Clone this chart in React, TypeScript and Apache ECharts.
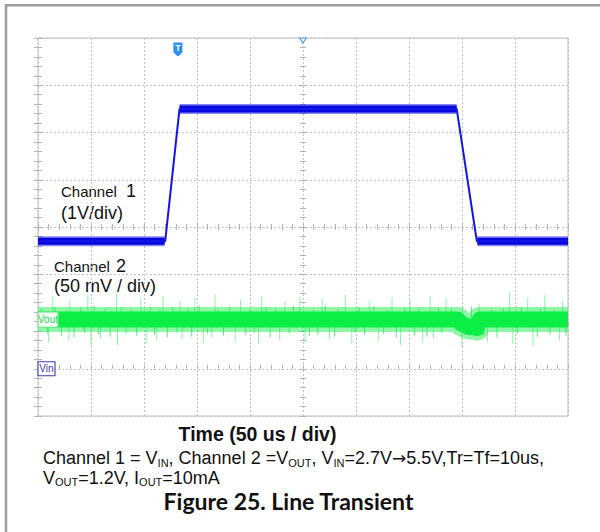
import React, { useEffect, useRef } from "react";
import * as echarts from "echarts";

// ---- Data read from the oscilloscope capture ----
// Time axis: 0..500 us (50 us/div, 10 div)
// Channel 1 (Vin), volts, 1 V/div, ground reference at 1 div from bottom
const ch1TimeUs = [0, 120, 133.5, 395, 414, 500];
const ch1Volts = [2.7, 2.7, 5.5, 5.5, 2.7, 2.7];
// flat (noisy) parts of channel 1, null = gap during the edges
const ch1BandTimeUs = [0, 119.5, 126, 133.5, 395, 405, 414.5, 500];
const ch1BandVolts: (number | null)[] = [2.7, 2.7, null, 5.5, 5.5, null, 2.7, 2.7];

// Channel 2 (Vout, AC), mV, 50 mV/div, reference at 2 div from bottom
const ch2TimeUs = [0, 396, 399, 403, 407, 411, 414, 415.5, 417, 500];
const ch2Mv = [2, 2, -2, -4, -6, -5, -7, -1, 2, 2];
// large noise spikes on channel 2 (tip values, mV)
const ch2SpikeUpTimeUs = [14, 30, 47, 74, 97, 118, 134, 148, 167, 191, 211, 233, 247, 268, 290, 313, 334, 351, 370, 385, 416, 445, 462, 478, 495];
const ch2SpikeUpMv = [26, 22, 28, 30, 24, 27, 22, 25, 29, 23, 27, 21, 26, 24, 28, 22, 26, 23, 27, 24, 19, 31, 25, 28, 22];
const ch2SpikeDownTimeUs = [10, 29, 50, 59, 75, 102, 112, 136, 156, 164, 186, 208, 228, 252, 275, 296, 321, 342, 363, 373, 400, 424, 448, 467, 492];
const ch2SpikeDownMv = [-22, -20, -26, -18, -25, -24, -20, -19, -23, -17, -21, -24, -20, -22, -19, -23, -21, -25, -22, -18, -27, -22, -24, -26, -20];
// smaller noise excursions on channel 2 (tip values, mV)
const ch2FuzzTimeUs = [
  3, 9, 16, 22, 27, 34, 40, 44, 53, 57,
  63, 68, 79, 83, 88, 93, 106, 110, 115, 122,
  127, 131, 141, 145, 152, 160, 170, 175, 181, 196,
  200, 204, 215, 219, 224, 237, 241, 256, 260, 264,
  271, 280, 283, 299, 303, 308, 317, 326, 330, 338,
  346, 355, 359, 367, 378, 381, 390, 405, 409, 420,
  428, 433, 439, 452, 456, 471, 474, 483, 487, 498,
];
const ch2FuzzMv = [
  14, -13, 16, -15, 12, -17, 15, -12, 17, -14,
  13, -16, 15, -13, 12, -15, 16, -14, 13, -17,
  15, -12, 14, -16, 17, -13, 12, -15, 16, -14,
  13, -12, 15, -17, 14, -13, 16, -15, 12, -14,
  17, -16, 13, -12, 15, -14, 16, -13, 12, -17,
  14, -15, 13, -16, 15, -12, 14, -13, 16, -15,
  12, -17, 14, -13, 15, -16, 13, -14, 12, -15,
];

const triggerTimeUs = 132;
const centerTimeUs = 250;

const FONT = "'Liberation Sans', Arial, Helvetica, sans-serif";
const GRID_COLOR = "#c4c4c4";
const TICK_COLOR = "#b4b4b4";

function pairs(xs: number[], ys: (number | null)[]) {
  return xs.map((x, i) => [x, ys[i]]);
}

function spikeLines(data: number[][], stroke: string, opacity: number): any {
  return {
    type: "custom",
    xAxisIndex: 0,
    yAxisIndex: 1,
    silent: true,
    encode: { x: 0, y: [1, 2] },
    data,
    renderItem: (_params: any, api: any) => {
      const p0 = api.coord([api.value(0), api.value(1)]);
      const p1 = api.coord([api.value(0), api.value(2)]);
      return {
        type: "line",
        shape: { x1: p0[0], y1: p0[1], x2: p1[0], y2: p1[1] },
        style: { stroke, lineWidth: 1, opacity },
      };
    },
  };
}

function buildOption(): any {
  const bigSpikes = [
    ...ch2SpikeUpTimeUs.map((t, i) => [t, 2, ch2SpikeUpMv[i]]),
    ...ch2SpikeDownTimeUs.map((t, i) => [t, 2, ch2SpikeDownMv[i]]),
  ];
  const fuzz = ch2FuzzTimeUs.map((t, i) => [t, 2, ch2FuzzMv[i]]);

  const tickStyle = { color: TICK_COLOR, width: 1 };
  const xBase = {
    type: "value",
    min: 0,
    max: 500,
    interval: 50,
    axisLabel: { show: false },
    axisLine: { show: false },
    splitLine: { show: false },
  };
  const yBase = {
    type: "value",
    min: -1,
    max: 7,
    interval: 1,
    axisLabel: { show: false },
    axisLine: { show: false },
    splitLine: { show: false },
  };
  const edgeTick = (inside: boolean, len: number) => ({
    axisTick: { show: true, inside, length: len, lineStyle: tickStyle },
    minorTick: { show: true, splitNumber: 5, length: len, lineStyle: tickStyle },
  });

  const textStyle = (extra: any) => ({
    fontFamily: FONT,
    fill: "#111",
    align: "left",
    verticalAlign: "middle",
    textAlign: "left",
    textVerticalAlign: "middle",
    ...extra,
  });
  const rich = {
    n: { fontSize: 18, fontFamily: FONT, color: "#111", lineHeight: 20 },
    a: { fontSize: 17, fontFamily: "'DejaVu Sans', sans-serif", color: "#111", lineHeight: 20 },
    s: { fontSize: 11, fontFamily: FONT, color: "#111", lineHeight: 14, verticalAlign: "bottom" },
  };

  return {
    animation: false,
    backgroundColor: "#ffffff",
    grid: {
      left: 38,
      top: 38,
      width: 530,
      height: 378,
      show: true,
      borderColor: "#bdbdbd",
      borderWidth: 1,
      backgroundColor: "transparent",
      outerBoundsMode: "none",
    },
    xAxis: [
      {
        ...xBase,
        position: "bottom",
        splitLine: { show: true, lineStyle: { color: GRID_COLOR, type: [2, 2], width: 1 } },
        ...edgeTick(true, 4),
      },
      { ...xBase, position: "top", ...edgeTick(true, 4) },
      { ...xBase, position: "bottom", offset: -189, ...edgeTick(false, 3) },
      { ...xBase, position: "top", offset: -189, ...edgeTick(false, 3) },
    ],
    yAxis: [
      {
        ...yBase,
        position: "left",
        splitLine: { show: true, lineStyle: { color: GRID_COLOR, type: [2, 2], width: 1 } },
        ...edgeTick(true, 4),
      },
      { type: "value", min: -100, max: 300, interval: 50, show: false },
      { ...yBase, position: "right", ...edgeTick(true, 4) },
      { ...yBase, position: "left", offset: -265, ...edgeTick(false, 3) },
      { ...yBase, position: "right", offset: -265, ...edgeTick(false, 3) },
    ],
    series: [
      { name: "ch2 spikes", ...spikeLines(bigSpikes, "#5cf080", 0.7) },
      { name: "ch2 fuzz", ...spikeLines(fuzz, "#34ee62", 0.85) },
      {
        name: "ch2 outer",
        type: "line",
        xAxisIndex: 0,
        yAxisIndex: 1,
        silent: true,
        symbol: "none",
        data: pairs(ch2TimeUs, ch2Mv),
        lineStyle: { color: "rgba(30,238,80,0.5)", width: 25, cap: "butt", join: "round" },
      },
      {
        name: "Channel 2",
        type: "line",
        xAxisIndex: 0,
        yAxisIndex: 1,
        silent: true,
        symbol: "none",
        data: pairs(ch2TimeUs, ch2Mv),
        lineStyle: { color: "#0cee46", width: 16, cap: "butt", join: "round" },
        markPoint: {
          silent: true,
          animation: false,
          z: 10,
          data: [
            {
              coord: [0, 2],
              symbol: "rect",
              symbolSize: [20, 15],
              symbolOffset: [10, 0],
              itemStyle: { color: "#f4fff6", borderColor: "#74e48e", borderWidth: 1 },
              label: {
                show: true,
                position: "inside",
                formatter: "Vout",
                color: "#2ed35a",
                fontSize: 10,
                fontFamily: FONT,
              },
            },
          ],
        },
      },
      {
        name: "ch1 outer",
        type: "line",
        xAxisIndex: 0,
        yAxisIndex: 0,
        silent: true,
        symbol: "none",
        connectNulls: false,
        data: pairs(ch1BandTimeUs, ch1BandVolts),
        lineStyle: { color: "rgba(40,40,235,0.55)", width: 10, cap: "butt" },
      },
      {
        name: "ch1 band",
        type: "line",
        xAxisIndex: 0,
        yAxisIndex: 0,
        silent: true,
        symbol: "none",
        connectNulls: false,
        data: pairs(ch1BandTimeUs, ch1BandVolts),
        lineStyle: { color: "#0808de", width: 7, cap: "butt" },
      },
      {
        name: "Channel 1",
        type: "line",
        xAxisIndex: 0,
        yAxisIndex: 0,
        silent: true,
        symbol: "none",
        data: pairs(ch1TimeUs, ch1Volts),
        lineStyle: { color: "#1414e6", width: 2 },
        markPoint: {
          silent: true,
          animation: false,
          z: 10,
          data: [
            {
              coord: [0, 0],
              symbol: "rect",
              symbolSize: [17, 14],
              symbolOffset: [8.5, 0],
              itemStyle: { color: "#ffffff", borderColor: "#3a3ab4", borderWidth: 1 },
              label: {
                show: true,
                position: "inside",
                formatter: "Vin",
                color: "#3a3ab4",
                fontSize: 10,
                fontFamily: FONT,
              },
            },
            {
              coord: [triggerTimeUs, 7],
              symbol: "path://M0,0 L10,0 L10,10 L5,14 L0,10 Z",
              symbolSize: [9, 14],
              symbolOffset: [0, 11.5],
              itemStyle: { color: "#2e8ee8" },
              label: {
                show: true,
                position: "inside",
                formatter: "T",
                color: "#ffffff",
                fontSize: 9,
                fontWeight: "bold",
                fontFamily: FONT,
                offset: [0, -2],
              },
            },
            {
              coord: [centerTimeUs, 7],
              symbol: "triangle",
              symbolRotate: 180,
              symbolSize: [7, 5],
              symbolOffset: [0, 2.5],
              itemStyle: { color: "#eef6ff", borderColor: "#4ea2e6", borderWidth: 1 },
              label: { show: false },
            },
          ],
        },
      },
    ],
    graphic: [
      // outer frame (top and left)
      { type: "line", shape: { x1: 5, y1: 5.3, x2: 600, y2: 5.3 }, style: { stroke: "#9c9c9c", lineWidth: 2.5 }, silent: true },
      { type: "line", shape: { x1: 6, y1: 4, x2: 6, y2: 532 }, style: { stroke: "#9c9c9c", lineWidth: 2.5 }, silent: true },
      // in-plot labels
      { type: "text", x: 61, y: 191.5, style: textStyle({ text: "Channel", fontSize: 15 }), silent: true },
      { type: "text", x: 126, y: 190.5, style: textStyle({ text: "1", fontSize: 18 }), silent: true },
      { type: "text", x: 61, y: 212.7, style: textStyle({ text: "(1V/div)", fontSize: 18 }), silent: true },
      { type: "text", x: 54, y: 266.7, style: textStyle({ text: "Channel", fontSize: 15 }), silent: true },
      { type: "text", x: 116, y: 265.7, style: textStyle({ text: "2", fontSize: 18 }), silent: true },
      { type: "text", x: 54, y: 286.4, style: textStyle({ text: "(50 mV / div)", fontSize: 18 }), silent: true },
      // captions
      {
        type: "text",
        x: 257.5,
        y: 434,
        silent: true,
        style: textStyle({ text: "Time (50 us / div)", fontSize: 19.5, fontWeight: "bold", align: "center", textAlign: "center" }),
      },
      {
        type: "text",
        x: 43,
        y: 458,
        silent: true,
        style: textStyle({
          text: "{n|Channel 1 = V}{s|IN}{n|, Channel 2 =V}{s|OUT}{n|, V}{s|IN}{n|=2.7V}{a|→}{n|5.5V,Tr=Tf=10us,}",
          rich,
        }),
      },
      {
        type: "text",
        x: 43,
        y: 477.5,
        silent: true,
        style: textStyle({
          text: "{n|V}{s|OUT}{n|=1.2V, I}{s|OUT}{n|=10mA}",
          rich,
        }),
      },
      {
        type: "text",
        x: 288.5,
        y: 501,
        silent: true,
        style: textStyle({
          text: "Figure 25. Line Transient",
          fontSize: 23,
          fontWeight: "bold",
          fontFamily: "Lato, 'Open Sans', sans-serif",
          align: "center",
          textAlign: "center",
        }),
      },
    ],
  };
}

export default function App() {
  const ref = useRef<HTMLDivElement>(null);
  useEffect(() => {
    if (!ref.current) return;
    const chart = echarts.init(ref.current, null, { renderer: "svg" });
    chart.setOption(buildOption());
    return () => {
      chart.dispose();
    };
  }, []);
  return (
    <div
      ref={ref}
      style={{ position: "fixed", left: 0, top: 0, width: 600, height: 532, background: "#ffffff" }}
    />
  );
}
